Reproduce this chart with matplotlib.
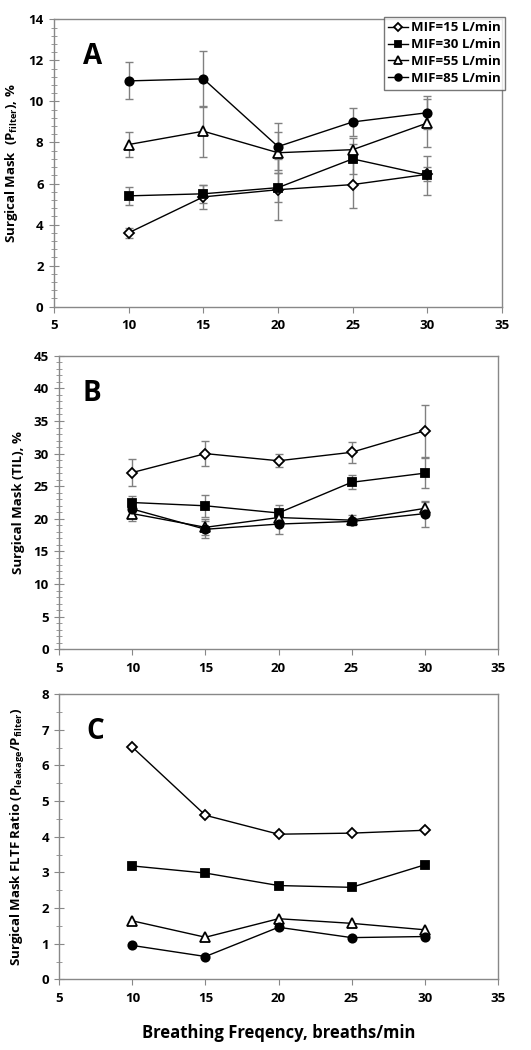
import matplotlib
matplotlib.use("Agg")
import matplotlib.pyplot as plt
from matplotlib.ticker import MultipleLocator

plt.rcParams['font.family'] = ['Open Sans', 'DejaVu Sans']
plt.rcParams['font.weight'] = 'bold'

freq = [10, 15, 20, 25, 30]
labels = ['MIF=15 L/min', 'MIF=30 L/min', 'MIF=55 L/min', 'MIF=85 L/min']

# panel A: P_filter, %
pf_15 = [3.6, 5.35, 5.7, 5.95, 6.45]
pf_30 = [5.4, 5.5, 5.8, 7.2, 6.4]
pf_55 = [7.9, 8.55, 7.5, 7.65, 8.95]
pf_85 = [11.0, 11.1, 7.8, 9.0, 9.45]
pf_15_err = [0.25, 0.6, 1.5, 1.15, 0.35]
pf_30_err = [0.45, 0.45, 0.7, 0.75, 0.95]
pf_55_err = [0.6, 1.25, 1.0, 0.55, 1.15]
pf_85_err = [0.9, 1.35, 1.15, 0.7, 0.8]

# panel B: TIL, %
til_15 = [27.1, 30.0, 28.9, 30.2, 33.5]
til_30 = [22.5, 22.0, 20.9, 25.6, 27.0]
til_55 = [20.8, 18.7, 20.2, 19.8, 21.6]
til_85 = [21.5, 18.4, 19.2, 19.6, 20.8]
til_15_err = [2.05, 1.9, 1.0, 1.6, 4.0]
til_30_err = [1.0, 1.7, 1.2, 1.1, 2.3]
til_55_err = [1.1, 1.2, 0.8, 0.8, 1.0]
til_85_err = [1.0, 1.3, 1.5, 0.5, 2.0]

# panel C: FLTF ratio
r_15 = [6.51, 4.6, 4.07, 4.10, 4.18]
r_30 = [3.18, 2.98, 2.63, 2.58, 3.21]
r_55 = [1.64, 1.18, 1.70, 1.57, 1.39]
r_85 = [0.95, 0.64, 1.46, 1.17, 1.20]

markers = ['D', 's', '^', 'o']
faces = ['white', 'black', 'white', 'black']
msizes = [5, 6, 7, 6]

fig = plt.figure(figsize=(5.31, 10.5), dpi=100)
axA = fig.add_axes([0.1017, 0.7079, 0.8437, 0.2737])
axB = fig.add_axes([0.1117, 0.3816, 0.8256, 0.2796])
axC = fig.add_axes([0.1117, 0.0673, 0.8256, 0.2717])


def draw(ax, series, errs):
    handles = []
    for i, ys in enumerate(series):
        if errs is not None:
            ax.errorbar(freq, ys, yerr=errs[i], fmt='none', ecolor='#808080',
                        elinewidth=1, capsize=3, capthick=1, zorder=1)
        h, = ax.plot(freq, ys, color='black', lw=1, marker=markers[i],
                     markersize=msizes[i], markerfacecolor=faces[i],
                     markeredgecolor='black', markeredgewidth=1.3, zorder=3)
        handles.append(h)
    return handles


def style(ax, ymax, major, minor, letter, lx):
    ax.set_xlim(5, 35)
    ax.set_ylim(0, ymax)
    ax.xaxis.set_major_locator(MultipleLocator(5))
    ax.yaxis.set_major_locator(MultipleLocator(major))
    ax.yaxis.set_minor_locator(MultipleLocator(minor))
    for s in ax.spines.values():
        s.set_color('#888888')
        s.set_linewidth(1)
    ax.tick_params(axis='y', which='major', direction='inout', length=7,
                   color='#888888', labelsize=9.5, pad=4)
    ax.tick_params(axis='y', which='minor', direction='inout', length=4,
                   color='#888888')
    ax.tick_params(axis='x', which='major', direction='out', length=4,
                   color='#888888', labelsize=9.5, pad=5)
    for t in ax.get_xticklabels() + ax.get_yticklabels():
        t.set_fontweight('bold')
    ax.text(lx, 0.87, letter, transform=ax.transAxes, fontsize=20,
            fontweight='bold', ha='center', va='center')


hs = draw(axA, [pf_15, pf_30, pf_55, pf_85],
          [pf_15_err, pf_30_err, pf_55_err, pf_85_err])
style(axA, 14, 2, 0.4, 'A', 0.085)
axA.set_ylabel(r'Surgical Mask  (P$_{\mathregular{filter}}$), %', fontsize=9.5,
               fontweight='bold', labelpad=6)

draw(axB, [til_15, til_30, til_55, til_85],
     [til_15_err, til_30_err, til_55_err, til_85_err])
style(axB, 45, 5, 1, 'B', 0.075)
axB.set_ylabel('Surgical Mask (TIL), %', fontsize=9.5, fontweight='bold',
               labelpad=6)

draw(axC, [r_15, r_30, r_55, r_85], None)
style(axC, 8, 1, 0.5, 'C', 0.081)
axC.set_ylabel(r'Surgical Mask FLTF Ratio (P$_{\mathregular{leakage}}$/P$_{\mathregular{filter}}$)',
               fontsize=9.5, fontweight='bold', labelpad=10)
axC.set_xlabel('Breathing Freqency, breaths/min', fontsize=12,
               fontweight='bold', labelpad=14)

leg = fig.legend(hs, labels, loc='upper right', bbox_to_anchor=(0.964, 0.9905),
                 frameon=True, fancybox=False, edgecolor='#555555',
                 fontsize=9.5, handlelength=1.5, handletextpad=0.2,
                 labelspacing=0.3, borderpad=0.35, markerscale=0.8)
leg.get_frame().set_linewidth(1)
for t in leg.get_texts():
    t.set_fontweight('bold')

fig.savefig('out.png', dpi=100)
